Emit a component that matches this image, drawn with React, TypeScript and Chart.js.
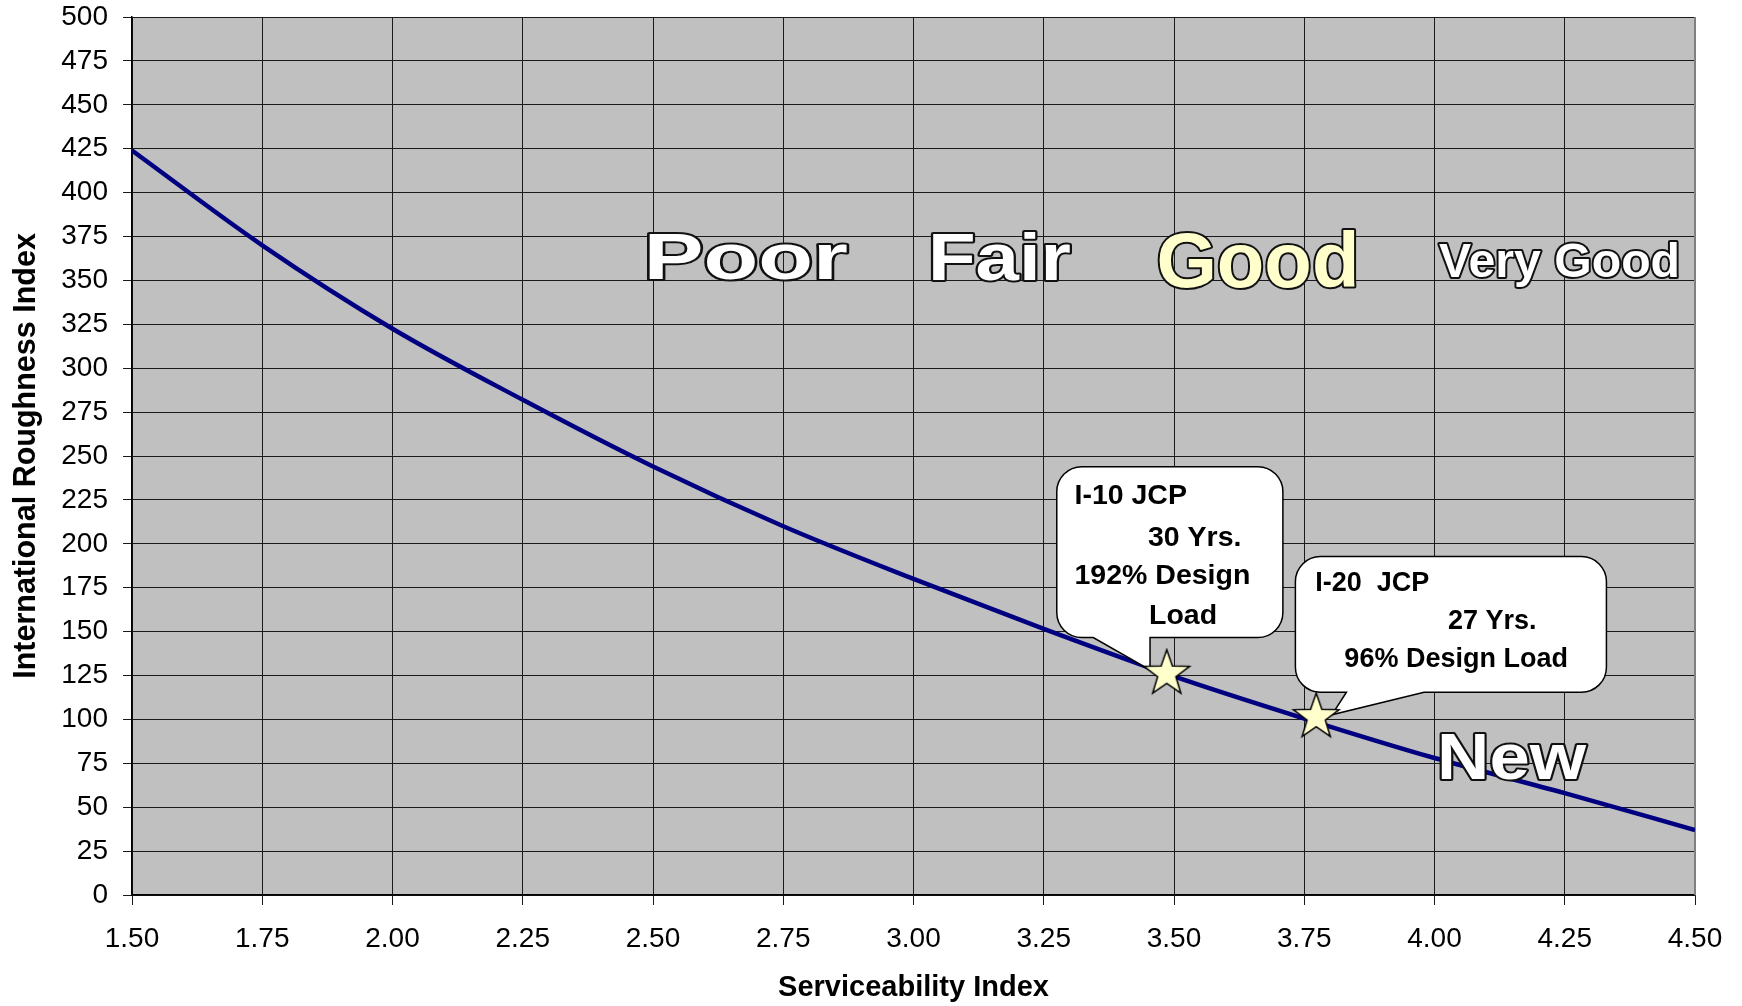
import React, { useEffect, useRef } from "react";
import { Chart, registerables } from "chart.js";

Chart.register(...registerables);

// ---- Data ----
const serviceabilityIndex = [1.5, 1.75, 2.0, 2.25, 2.5, 2.75, 3.0, 3.25, 3.5, 3.75, 4.0, 4.25, 4.5];
const roughnessIndex = [424, 370, 322.5, 282, 244, 210, 180, 151.5, 124.5, 100.5, 78, 58, 37];

const siteServiceability = [3.486, 3.773];
const siteRoughness = [126, 101.3];

const conditionLabels = ["Poor", "Fair", "Good", "Very Good", "New"];

const calloutTexts = [
  ["I-10 JCP", "30 Yrs.", "192% Design", "Load"],
  ["I-20  JCP", "27 Yrs.", "96% Design Load"],
];

const xTitle = "Serviceability Index";
const yTitle = "International Roughness Index";

// ---- Layout / style (annotation placement in data units) ----
const conditionLabelStyle = [
  { x: 2.678, y: 350.9, size: 65, width: 204, fill: "#FFFFFF" },
  { x: 3.165, y: 350.4, size: 66.5, width: 143, fill: "#FFFFFF" },
  { x: 3.661, y: 346.2, size: 77, width: 203, fill: "#FFFFCC" },
  { x: 4.24, y: 351.9, size: 47.5, width: 241, fill: "#FFFFFF" },
  { x: 4.148, y: 65.8, size: 64, width: 149, fill: "#FFFFFF" },
];

const calloutLayout = [
  {
    box: [3.275, 243.9, 3.709, 146.6],
    base: [3.345, 3.454],
    tip: [3.454, 128.2],
    lines: [
      [3.309, 226.9],
      [3.45, 203.5],
      [3.309, 181.3],
      [3.452, 158.6],
    ],
    size: 28.5,
  },
  {
    box: [3.733, 192.7, 4.33, 115.5],
    base: [3.831, 3.98],
    tip: [3.803, 102.6],
    lines: [
      [3.771, 177.6],
      [4.026, 155.7],
      [3.827, 133.9],
    ],
    size: 27,
  },
];

const FONT = '"Liberation Sans", Arial, Helvetica, sans-serif';

function makeStar(R: number): HTMLCanvasElement {
  const c = document.createElement("canvas");
  const s = Math.ceil(2 * R + 4);
  c.width = s;
  c.height = s;
  const ctx = c.getContext("2d")!;
  const cx = s / 2;
  const cy = s / 2;
  const r = R * 0.4;
  ctx.beginPath();
  for (let i = 0; i < 10; i++) {
    const a = -Math.PI / 2 + (i * Math.PI) / 5;
    const rad = i % 2 === 0 ? R : r;
    const px = cx + rad * Math.cos(a);
    const py = cy + rad * Math.sin(a);
    if (i === 0) ctx.moveTo(px, py);
    else ctx.lineTo(px, py);
  }
  ctx.closePath();
  ctx.fillStyle = "#FFFFCC";
  ctx.fill();
  ctx.lineWidth = 1.5;
  ctx.lineJoin = "miter";
  ctx.strokeStyle = "#000";
  ctx.stroke();
  return c;
}

const backgroundPlugin = {
  id: "plotBg",
  beforeDraw(chart: any) {
    const { ctx, chartArea } = chart;
    ctx.save();
    ctx.fillStyle = "#C0C0C0";
    ctx.fillRect(chartArea.left, chartArea.top, chartArea.right - chartArea.left, chartArea.bottom - chartArea.top);
    ctx.restore();
  },
  beforeDatasetsDraw(chart: any) {
    const { ctx, chartArea } = chart;
    ctx.save();
    ctx.strokeStyle = "#808080";
    ctx.lineWidth = 2;
    ctx.beginPath();
    ctx.moveTo(chartArea.right, chartArea.top);
    ctx.lineTo(chartArea.right, chartArea.bottom);
    ctx.stroke();
    ctx.restore();
  },
};

function drawCallouts(chart: any) {
  const { ctx } = chart;
  const xs = chart.scales.x;
  const ys = chart.scales.y;
  calloutLayout.forEach((c, idx) => {
    const L = xs.getPixelForValue(c.box[0]);
    const T = ys.getPixelForValue(c.box[1]);
    const R = xs.getPixelForValue(c.box[2]);
    const B = ys.getPixelForValue(c.box[3]);
    const b1 = xs.getPixelForValue(c.base[0]);
    const b2 = xs.getPixelForValue(c.base[1]);
    const tx = xs.getPixelForValue(c.tip[0]);
    const ty = ys.getPixelForValue(c.tip[1]);
    const r = 25;
    ctx.save();
    ctx.beginPath();
    ctx.moveTo(L + r, T);
    ctx.arcTo(R, T, R, B, r);
    ctx.arcTo(R, B, L, B, r);
    ctx.lineTo(b2, B);
    ctx.lineTo(tx, ty);
    ctx.lineTo(b1, B);
    ctx.arcTo(L, B, L, T, r);
    ctx.arcTo(L, T, R, T, r);
    ctx.closePath();
    ctx.fillStyle = "#FFFFFF";
    ctx.fill();
    ctx.lineWidth = 1.5;
    ctx.strokeStyle = "#000";
    ctx.stroke();
    ctx.fillStyle = "#000";
    ctx.font = `bold ${c.size}px ${FONT}`;
    ctx.textAlign = "left";
    ctx.textBaseline = "middle";
    calloutTexts[idx].forEach((t, i) => {
      const p = c.lines[i];
      ctx.fillText(t, xs.getPixelForValue(p[0]), ys.getPixelForValue(p[1]));
    });
    ctx.restore();
  });
}

const annotationPlugin = {
  id: "annotations",
  afterDatasetDraw(chart: any, args: any) {
    if (args.index === 0) drawCallouts(chart);
  },
  afterDatasetsDraw(chart: any) {
    const { ctx } = chart;
    const xs = chart.scales.x;
    const ys = chart.scales.y;
    conditionLabels.forEach((text, i) => {
      const st = conditionLabelStyle[i];
      const x = xs.getPixelForValue(st.x);
      const y = ys.getPixelForValue(st.y);
      ctx.save();
      ctx.font = `bold ${st.size}px ${FONT}`;
      const w = ctx.measureText(text).width;
      const sx = st.width / w;
      ctx.translate(x, y);
      ctx.scale(sx, 1);
      ctx.textAlign = "center";
      ctx.textBaseline = "alphabetic";
      ctx.lineJoin = "round";
      ctx.lineWidth = 4;
      ctx.strokeStyle = "#111";
      ctx.strokeText(text, 0, 0);
      ctx.fillStyle = st.fill;
      ctx.fillText(text, 0, 0);
      ctx.restore();
    });
  },
};

export default function App() {
  const ref = useRef<HTMLCanvasElement | null>(null);

  useEffect(() => {
    if (!ref.current) return;
    const star = makeStar(24);
    const chart = new Chart(ref.current, {
      type: "line",
      data: {
        datasets: [
          {
            label: "IRI",
            data: serviceabilityIndex.map((x, i) => ({ x, y: roughnessIndex[i] })),
            borderColor: "#000080",
            borderWidth: 4.5,
            pointRadius: 0,
            cubicInterpolationMode: "monotone",
            fill: false,
            order: 2,
          },
          {
            label: "Sites",
            data: siteServiceability.map((x, i) => ({ x, y: siteRoughness[i] })),
            showLine: false,
            pointStyle: star as any,
            pointRadius: 24,
            order: 1,
          } as any,
        ],
      },
      options: {
        animation: false,
        responsive: false,
        devicePixelRatio: 1,
        layout: { autoPadding: false, padding: { left: 0, top: 17, right: 47, bottom: 0 } },
        plugins: {
          legend: { display: false },
          tooltip: { enabled: false },
        },
        scales: {
          x: {
            type: "linear",
            min: 1.5,
            max: 4.5,
            afterFit: (s: any) => {
              s.height = 111;
              s.paddingLeft = 0;
              s.paddingRight = 0;
            },
            ticks: {
              stepSize: 0.25,
              color: "#000",
              padding: 17,
              maxRotation: 0,
              autoSkip: false,
              font: { family: FONT, size: 28 },
              callback: (v: any) => Number(v).toFixed(2),
            },
            grid: { color: "#1a1a1a", lineWidth: 1, tickLength: 10, drawTicks: true },
            border: { display: true, color: "#000", width: 1.5 },
            title: {
              display: true,
              text: xTitle,
              color: "#000",
              font: { family: FONT, size: 29, weight: "bold", lineHeight: 1.2 },
              padding: { top: 0, bottom: 1 },
            },
          },
          y: {
            type: "linear",
            min: 0,
            max: 500,
            afterFit: (s: any) => {
              s.width = 132;
              s.paddingTop = 0;
              s.paddingBottom = 0;
            },
            ticks: {
              stepSize: 25,
              color: "#000",
              padding: 15,
              autoSkip: false,
              font: { family: FONT, size: 28 },
            },
            grid: { color: "#1a1a1a", lineWidth: 1, tickLength: 9, drawTicks: true },
            border: { display: true, color: "#000", width: 1.5 },
            title: {
              display: true,
              text: yTitle,
              color: "#000",
              font: { family: FONT, size: 30.5, weight: "bold", lineHeight: 1.2 },
              padding: { top: 8, bottom: 0 },
            },
          },
        },
      },
      plugins: [backgroundPlugin, annotationPlugin],
    });
    return () => chart.destroy();
  }, []);

  return (
    <div style={{ position: "fixed", left: 0, top: 0, width: 1742, height: 1006, background: "#fff" }}>
      <canvas ref={ref} width={1742} height={1006} style={{ display: "block" }} />
    </div>
  );
}
